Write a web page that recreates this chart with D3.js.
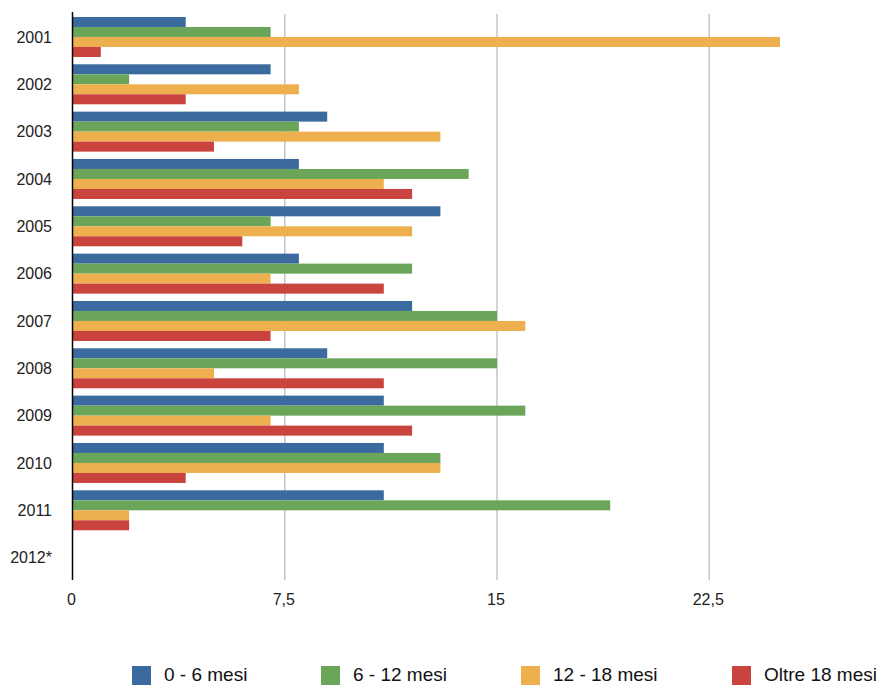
<!DOCTYPE html>
<html>
<head>
<meta charset="utf-8">
<script src="https://cdn.jsdelivr.net/npm/d3@7"></script>
<style>
  html, body { margin: 0; padding: 0; background: #fff; }
  svg { display: block; font-family: "Liberation Sans", Arial, Helvetica, sans-serif; }
</style>
</head>
<body>
<svg id="chart" width="883" height="685"></svg>
<script>
// Years shown on the vertical axis
const years = ["2001", "2002", "2003", "2004", "2005", "2006", "2007", "2008", "2009", "2010", "2011", "2012*"];

// Series names and their values per year
const seriesNames = ["0 - 6 mesi", "6 - 12 mesi", "12 - 18 mesi", "Oltre 18 mesi"];
const mesi0_6   = [4, 7, 9, 8, 13, 8, 12, 9, 11, 11, 11, 0];
const mesi6_12  = [7, 2, 8, 14, 7, 12, 15, 15, 16, 13, 19, 0];
const mesi12_18 = [25, 8, 13, 11, 12, 7, 16, 5, 7, 13, 2, 0];
const oltre18   = [1, 4, 5, 12, 6, 11, 7, 11, 12, 4, 2, 0];

const xTicks = [0, 7.5, 15, 22.5];
const xTickLabels = ["0", "7,5", "15", "22,5"];

const colors = ["#3b6a9f", "#6ba55a", "#eeb04e", "#ca443f"];

const seriesValues = [mesi0_6, mesi6_12, mesi12_18, oltre18];

const svg = d3.select("#chart");

const x = d3.scaleLinear().domain([0, 30]).range([72.5, 921.5]);
const y = d3.scaleBand().domain(years).range([13.3, 581.3]).paddingInner(0.155).paddingOuter(0.0775);
const ySub = d3.scaleBand().domain(seriesNames).range([0, y.bandwidth()]);

// Vertical grid lines
svg.append("g")
  .selectAll("line")
  .data(xTicks.filter(d => d > 0))
  .join("line")
  .attr("x1", d => x(d)).attr("x2", d => x(d))
  .attr("y1", 14).attr("y2", 580)
  .attr("stroke", "#c4c4c4")
  .attr("stroke-width", 1.5);

// Bars
const groups = svg.append("g")
  .selectAll("g")
  .data(years)
  .join("g")
  .attr("transform", d => `translate(0,${y(d)})`);

groups.selectAll("rect")
  .data((yr, i) => seriesNames.map((s, k) => ({ s, k, v: seriesValues[k][i] })))
  .join("rect")
  .attr("x", x(0))
  .attr("y", d => ySub(d.s))
  .attr("width", d => x(d.v) - x(0))
  .attr("height", ySub.bandwidth())
  .attr("fill", d => colors[d.k]);

// Year labels
svg.append("g")
  .selectAll("text")
  .data(years)
  .join("text")
  .attr("x", 52)
  .attr("y", d => y(d) + y.bandwidth() / 2)
  .attr("dy", "0.35em")
  .attr("text-anchor", "end")
  .attr("font-size", 16)
  .attr("fill", "#222")
  .text(d => d);

// Value axis labels
svg.append("g")
  .selectAll("text")
  .data(xTicks)
  .join("text")
  .attr("x", d => x(d) - 1)
  .attr("y", 605)
  .attr("text-anchor", "middle")
  .attr("font-size", 16)
  .attr("fill", "#222")
  .text((d, i) => xTickLabels[i]);

// Category axis line
svg.append("line")
  .attr("x1", x(0)).attr("x2", x(0))
  .attr("y1", 12).attr("y2", 580)
  .attr("stroke", "#000")
  .attr("stroke-width", 1.5);

// Legend
const legendX = [132, 321, 521, 732];
const legend = svg.append("g")
  .selectAll("g")
  .data(seriesNames)
  .join("g")
  .attr("transform", (d, i) => `translate(${legendX[i]},666)`);

legend.append("rect")
  .attr("width", 19).attr("height", 19)
  .attr("fill", (d, i) => colors[i]);

legend.append("text")
  .attr("x", 32)
  .attr("y", 15)
  .attr("font-size", 19)
  .attr("fill", "#111")
  .text(d => d);
</script>
</body>
</html>
